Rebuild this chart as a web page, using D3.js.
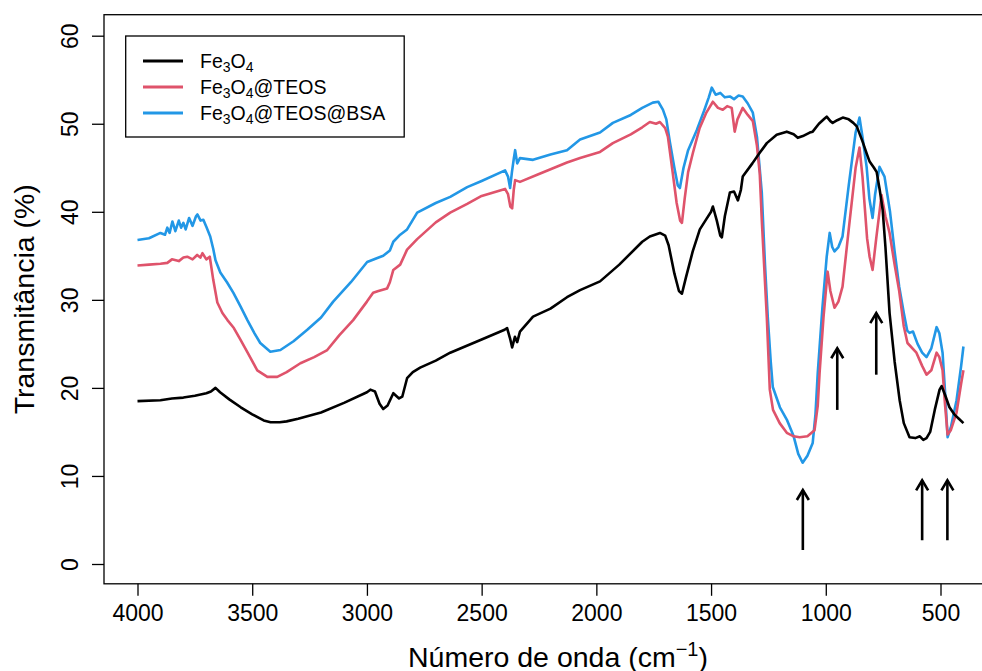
<!DOCTYPE html>
<html>
<head>
<meta charset="utf-8">
<script src="https://cdn.jsdelivr.net/npm/d3@7"></script>
<style>
  html, body { margin: 0; padding: 0; background: #fff; }
  svg { display: block; font-family: "Liberation Sans", Arial, sans-serif; }
</style>
</head>
<body>
<svg id="chart" width="982" height="671"></svg>
<script>
// ---------- data ----------
const xTicks = [4000, 3500, 3000, 2500, 2000, 1500, 1000, 500];
const yTicks = [0, 10, 20, 30, 40, 50, 60];

const seriesNames = ["Fe3O4", "Fe3O4@TEOS", "Fe3O4@TEOS@BSA"];

const wnFe = [4000,3900,3850,3800,3750,3700,3680,3660,3640,3600,3550,3500,3450,3420,3380,3350,3300,3200,3100,3000,2985,2965,2945,2929,2910,2885,2860,2846,2825,2800,2768,2700,2637,2500,2400,2389,2375,2367,2355,2345,2333,2276,2200,2128,2071,1984,1900,1800,1767,1723,1700,1685,1660,1640,1627,1610,1580,1549,1520,1500,1492,1475,1460,1453,1440,1418,1400,1383,1370,1362,1320,1288,1257,1214,1170,1140,1122,1100,1070,1057,1030,1005,996,980,970,950,926,900,880,865,840,820,809,790,778,765,752,740,722,700,678,660,635,610,590,575,561,545,525,504,495,480,461,440,420,400];
const tFe  = [18.5,18.6,18.8,18.9,19.1,19.4,19.6,20.0,19.5,18.7,17.8,17.0,16.3,16.1,16.1,16.2,16.5,17.2,18.3,19.5,19.8,19.6,18.2,17.6,18.0,19.4,18.8,19.0,21.1,21.8,22.3,23.1,24.0,25.5,26.6,26.8,25.5,24.6,25.8,25.2,26.4,28.1,29.0,30.3,31.1,32.1,34.0,36.6,37.2,37.6,37.3,36.2,33.0,31.0,30.7,32.5,35.5,38.0,39.2,40.0,40.6,39.0,37.3,37.1,39.5,42.2,42.3,41.3,42.5,44.0,45.5,46.7,47.8,48.75,49.1,48.8,48.4,48.6,49.0,49.1,50.0,50.6,50.8,50.3,50.1,50.4,50.7,50.5,50.1,49.7,48.0,46.5,45.7,45.0,44.5,42.5,40.2,36.0,28.5,23.0,18.6,16.0,14.4,14.3,14.5,14.1,14.3,15.0,17.5,19.8,20.2,19.2,17.8,17.0,16.5,16.0];

const wnTeos = [4000,3950,3900,3870,3850,3820,3800,3783,3760,3740,3726,3717,3700,3685,3670,3652,3630,3608,3580,3552,3520,3478,3434,3391,3350,3290,3230,3173,3120,3060,3000,2973,2950,2912,2900,2885,2855,2825,2781,2700,2637,2563,2500,2398,2385,2375,2367,2360,2354,2333,2250,2128,2071,1984,1928,1850,1800,1767,1740,1723,1700,1688,1670,1650,1635,1627,1615,1600,1579,1550,1520,1492,1470,1449,1430,1410,1397,1385,1362,1340,1318,1300,1288,1279,1265,1257,1244,1230,1201,1170,1140,1114,1080,1049,1035,1027,1010,992,980,962,945,927,900,870,853,840,820,809,796,780,757,740,722,700,680,660,644,605,580,561,540,517,505,491,480,469,455,430,410,400];
const tTeos  = [33.9,34.0,34.1,34.2,34.6,34.4,34.8,34.9,34.6,35.1,34.8,35.3,34.6,34.9,32.3,29.7,28.5,27.7,26.8,25.5,24.0,22.0,21.25,21.25,21.8,22.8,23.5,24.3,26.0,27.7,29.8,30.8,31.0,31.3,32.0,33.4,34.0,35.7,36.9,38.8,39.9,40.9,41.8,42.6,42.0,40.6,40.4,42.5,43.6,43.4,44.3,45.6,46.1,46.8,47.8,48.8,49.6,50.2,50.0,50.2,49.5,48.5,45.0,41.0,39.0,38.75,41.5,44.5,46.7,49.5,51.3,52.5,51.8,51.6,52.0,51.8,49.1,50.5,51.8,51.0,50.3,47.5,44.4,39.1,32.0,28.0,19.8,17.5,16.0,14.9,14.5,14.4,14.5,15.2,18.0,21.7,28.0,33.2,31.0,29.1,29.8,31.5,38.0,45.0,47.3,44.0,37.0,34.9,33.4,37.0,41.9,39.5,37.6,34.0,31.0,27.0,25.1,24.0,22.5,21.5,22.0,24.0,23.5,22.0,18.0,14.7,15.2,17.2,20.5,22.0];

const wnBsa = [4000,3950,3900,3880,3870,3860,3848,3835,3820,3810,3800,3790,3775,3760,3745,3739,3725,3713,3700,3683,3670,3660,3639,3610,3582,3550,3521,3490,3465,3421,3377,3320,3260,3200,3147,3070,2999,2960,2929,2900,2885,2855,2825,2781,2700,2637,2563,2500,2398,2385,2376,2368,2360,2354,2345,2333,2276,2200,2128,2071,1984,1928,1850,1800,1754,1730,1710,1695,1680,1660,1645,1636,1620,1600,1562,1530,1510,1497,1480,1460,1440,1418,1400,1380,1362,1340,1318,1300,1279,1265,1253,1240,1231,1200,1170,1140,1120,1101,1080,1057,1045,1035,1015,996,983,972,962,945,927,900,870,853,840,822,810,796,785,766,744,720,700,680,660,645,635,620,600,580,561,540,517,505,491,480,469,455,430,410,400];
const tBsa  = [36.8,37.0,37.6,37.4,38.2,37.6,38.9,37.8,39.0,38.2,38.75,38.0,39.3,38.4,39.5,39.7,39.0,39.1,38.3,37.2,35.8,34.5,33.1,32.0,30.8,29.2,27.7,26.2,25.1,24.1,24.3,25.3,26.6,28.0,29.8,32.0,34.3,34.7,35.0,35.6,36.6,37.4,38.0,39.9,41.0,41.7,42.8,43.5,44.7,44.0,42.7,44.5,46.0,47.0,45.5,46.1,45.9,46.5,47.0,48.2,49.0,50.1,51.0,51.8,52.4,52.5,51.6,50.5,48.0,45.0,43.0,42.7,45.0,47.0,49.3,51.5,53.0,54.1,53.3,53.5,53.0,53.1,52.8,53.2,53.1,52.3,51.25,48.5,42.2,34.0,28.1,23.0,20.1,17.8,16.4,14.5,12.5,11.5,12.3,13.75,17.0,21.7,29.0,34.9,37.6,36.0,35.5,36.0,37.2,43.0,49.0,50.7,48.5,45.1,41.5,39.3,42.0,45.1,44.0,40.0,35.5,31.5,28.5,26.5,26.25,26.4,25.0,24.0,23.5,24.5,26.9,26.2,24.0,19.5,14.4,15.5,18.6,22.5,24.7];

// arrows: wavenumber, start (tail) and end (head) transmittance
const arrowWn   = [1100, 950, 780, 580, 470];
const arrowFrom = [1.6, 17.5, 21.5, 2.7, 2.7];
const arrowTo   = [8.4, 24.5, 28.5, 9.5, 9.5];

const colors = ["#000000", "#DF536B", "#2297E6"];

// ---------- layout ----------
const svg = d3.select("#chart");
const plotL = 104, plotR = 997, plotT = 14.7, plotB = 583.8;

const x = d3.scaleLinear().domain([4000, 500]).range([137.5, 940.5]);
const y = d3.scaleLinear().domain([0, 60]).range([564, 35.7]);

// frame
svg.append("rect")
  .attr("x", plotL).attr("y", plotT)
  .attr("width", plotR - plotL).attr("height", plotB - plotT)
  .attr("fill", "none").attr("stroke", "#000").attr("stroke-width", 1.3);

// x axis
const xAxis = svg.append("g").attr("transform", `translate(0,${plotB})`)
  .call(d3.axisBottom(x).tickValues(xTicks).tickSize(12).tickSizeOuter(0).tickFormat(d3.format("d")));
xAxis.select(".domain").remove();
xAxis.selectAll("line").attr("stroke", "#000").attr("stroke-width", 1.3);
xAxis.selectAll("text").attr("font-size", 23).attr("fill", "#000")
  .attr("font-family", "Liberation Sans, Arial, sans-serif").attr("y", 21).attr("dy", "0.71em");

// y axis
const yAxis = svg.append("g").attr("transform", `translate(${plotL},0)`)
  .call(d3.axisLeft(y).tickValues(yTicks).tickSize(12).tickSizeOuter(0));
yAxis.select(".domain").remove();
yAxis.selectAll("line").attr("stroke", "#000").attr("stroke-width", 1.3);
yAxis.selectAll("text")
  .attr("font-size", 23).attr("fill", "#000")
  .attr("font-family", "Liberation Sans, Arial, sans-serif")
  .attr("x", null).attr("dy", null)
  .attr("text-anchor", "middle")
  .attr("transform", "translate(-26,0) rotate(-90)");

// axis titles
const xt = svg.append("text")
  .attr("x", 558).attr("y", 666.5)
  .attr("text-anchor", "middle").attr("font-size", 28.5).attr("fill", "#000");
xt.append("tspan").text("Número de onda (cm");
xt.append("tspan").text("\u22121").attr("font-size", 20).attr("dy", -11);
xt.append("tspan").text(")").attr("dy", 11);

svg.append("text")
  .attr("transform", `translate(34,${(plotT + plotB) / 2}) rotate(-90)`)
  .attr("text-anchor", "middle").attr("font-size", 28.5).attr("fill", "#000")
  .text("Transmitância (%)");

// curves
const clip = svg.append("clipPath").attr("id", "clip").append("rect")
  .attr("x", plotL).attr("y", plotT).attr("width", plotR - plotL).attr("height", plotB - plotT);

const line = d3.line().x(d => x(d[0])).y(d => y(d[1]));
const series = [
  { wn: wnBsa, t: tBsa, c: colors[2] },
  { wn: wnTeos, t: tTeos, c: colors[1] },
  { wn: wnFe, t: tFe, c: colors[0] }
];
const g = svg.append("g").attr("clip-path", "url(#clip)");
series.forEach(s => {
  g.append("path")
    .datum(s.wn.map((w, i) => [w, s.t[i]]))
    .attr("d", line)
    .attr("fill", "none")
    .attr("stroke", s.c)
    .attr("stroke-width", 2.6)
    .attr("stroke-linejoin", "round");
});

// arrows
arrowWn.forEach((w, i) => {
  const ax = x(w), y0 = y(arrowFrom[i]), y1 = y(arrowTo[i]);
  g.append("line").attr("x1", ax).attr("x2", ax).attr("y1", y0).attr("y2", y1)
    .attr("stroke", "#000").attr("stroke-width", 2.6);
  g.append("path")
    .attr("d", `M${ax - 6},${y1 + 10} L${ax},${y1} L${ax + 6},${y1 + 10}`)
    .attr("fill", "none").attr("stroke", "#000").attr("stroke-width", 2.6)
    .attr("stroke-linejoin", "miter");
});

// legend
const lg = svg.append("g");
lg.append("rect").attr("x", 125.7).attr("y", 36).attr("width", 278.5).attr("height", 101)
  .attr("fill", "#fff").attr("stroke", "#000").attr("stroke-width", 1.3);
const legendSuffix = ["", "@TEOS", "@TEOS@BSA"];
seriesNames.forEach((name, i) => {
  const ly = 61 + i * 26;
  lg.append("line").attr("x1", 143).attr("x2", 183).attr("y1", ly).attr("y2", ly)
    .attr("stroke", colors[i]).attr("stroke-width", 3);
  const t = lg.append("text").attr("x", 200).attr("y", ly + 6.5)
    .attr("font-size", 19.5).attr("fill", "#000");
  t.append("tspan").text("Fe");
  t.append("tspan").text("3").attr("font-size", 14).attr("dy", 4);
  t.append("tspan").text("O").attr("dy", -4);
  t.append("tspan").text("4").attr("font-size", 14).attr("dy", 4);
  t.append("tspan").text(legendSuffix[i]).attr("dy", -4);
});
</script>
</body>
</html>
